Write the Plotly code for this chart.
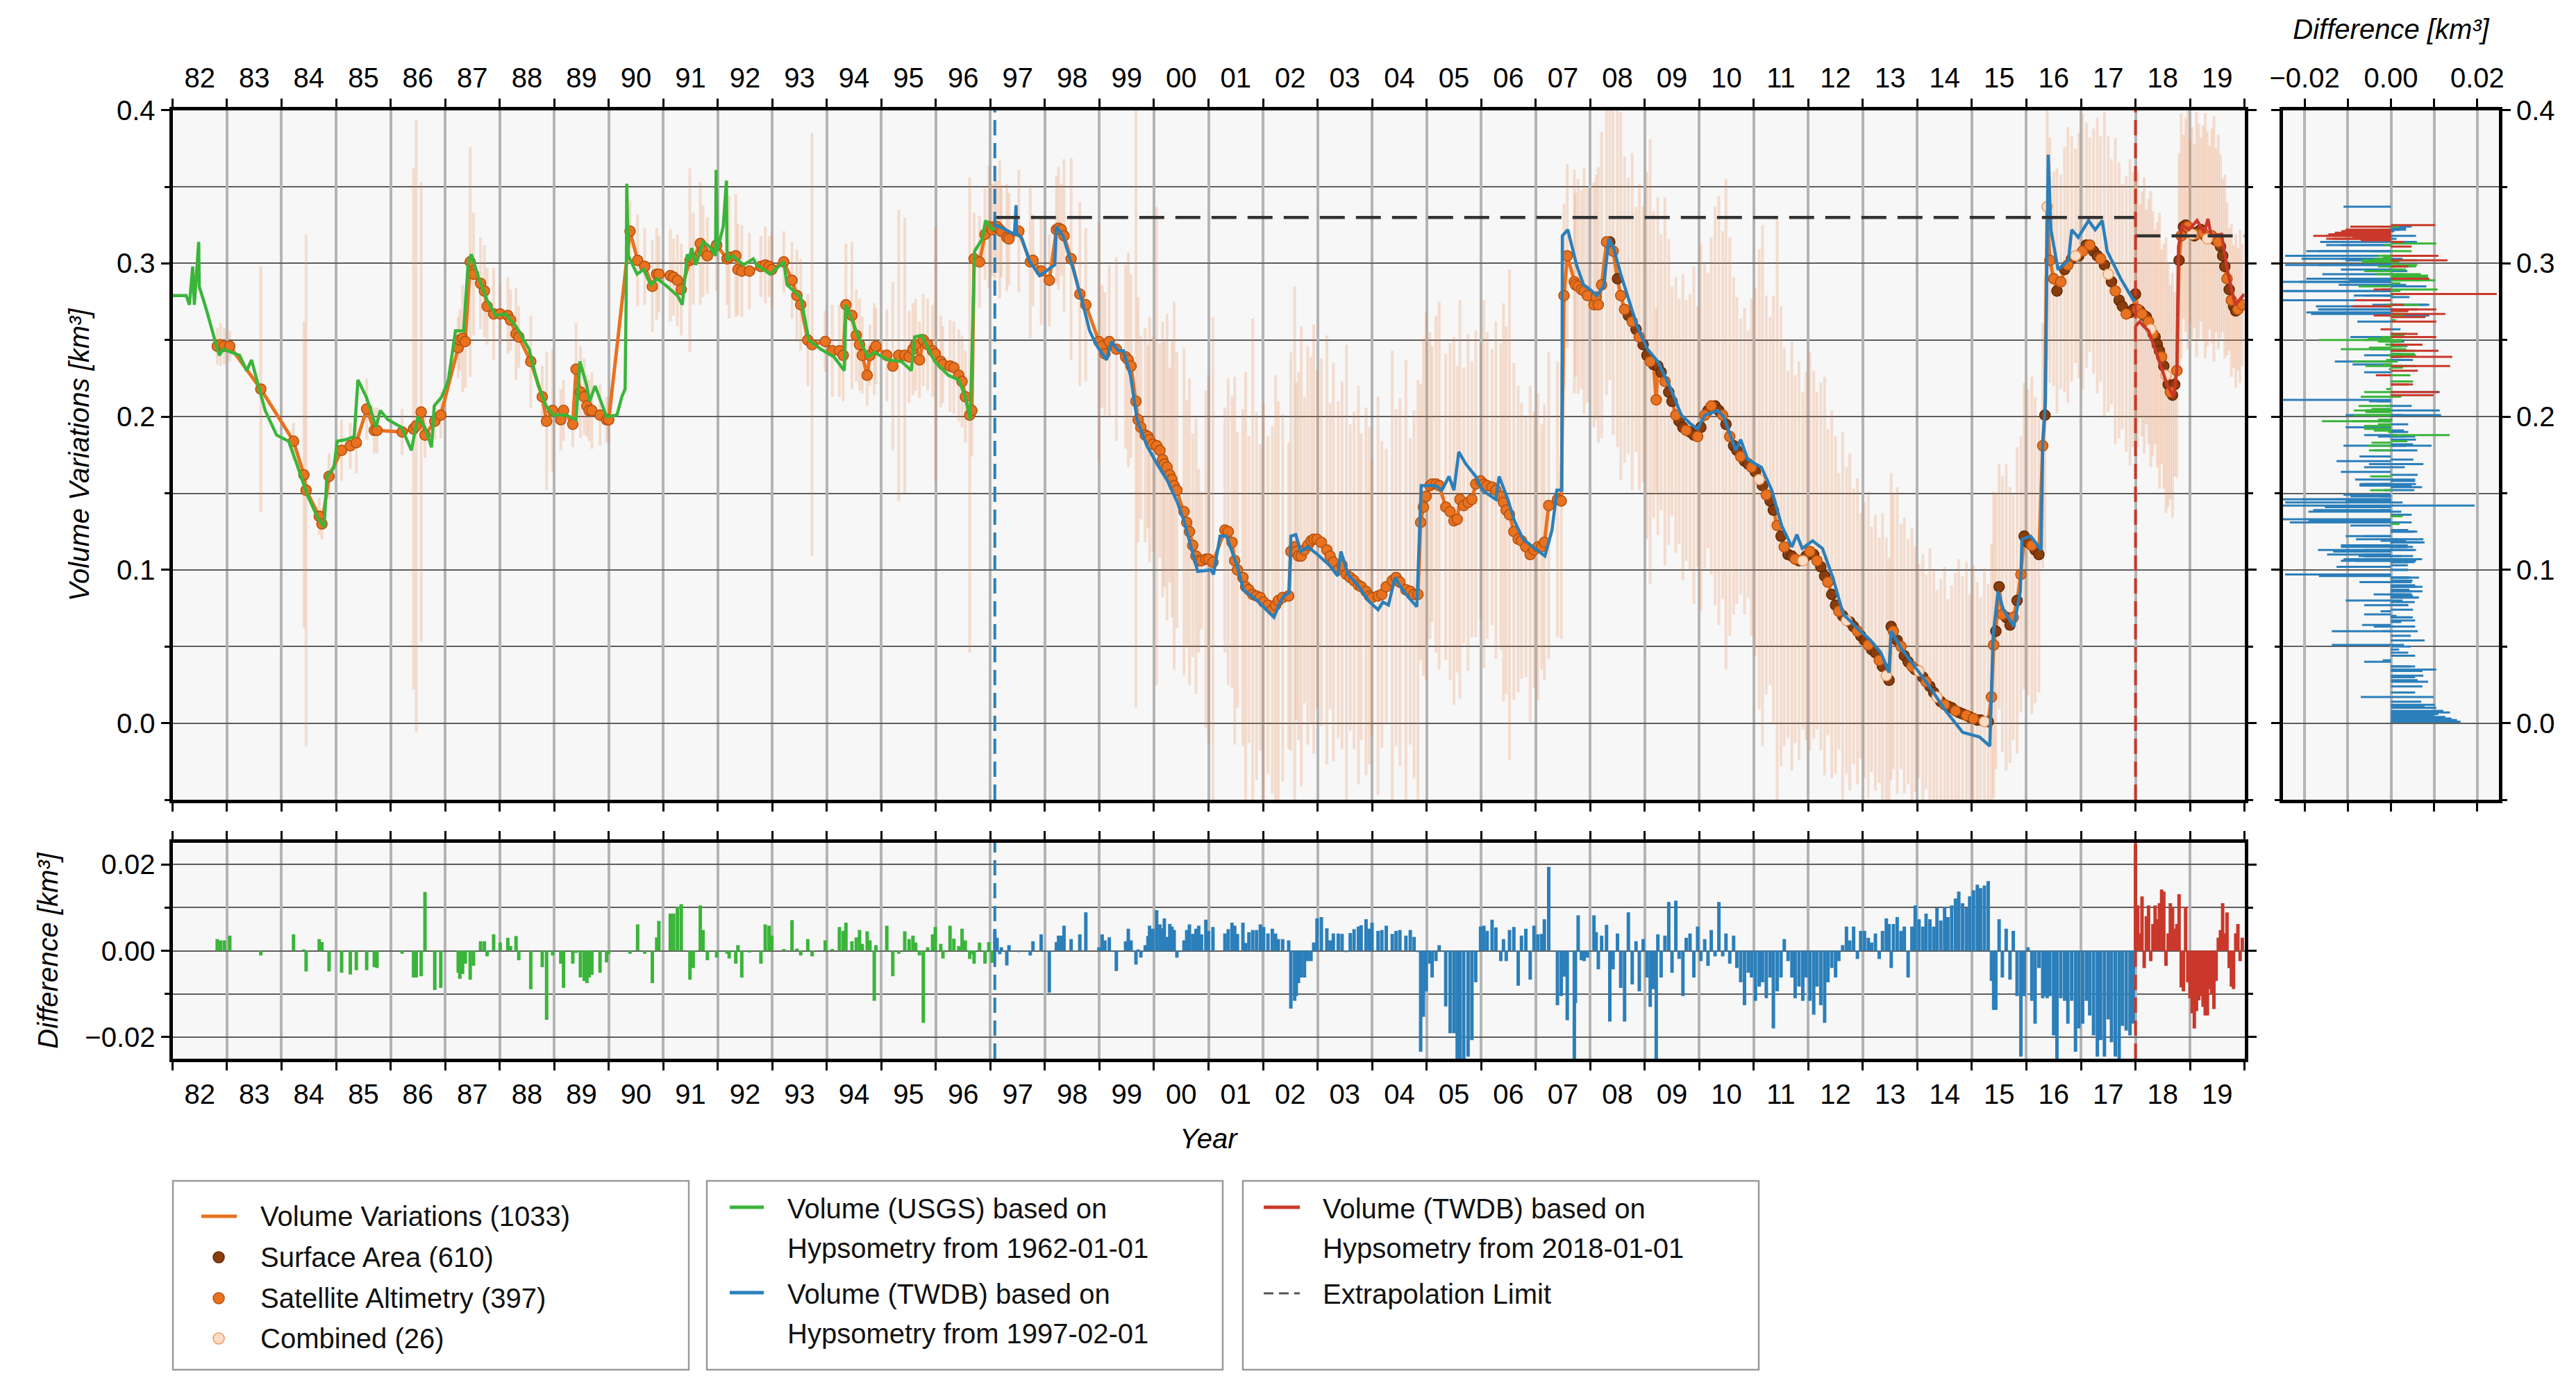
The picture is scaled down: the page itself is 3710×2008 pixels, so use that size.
import plotly.graph_objects as go
from datetime import datetime

W, H = 3710, 2008

# ---------------- DATA ----------------
# Period 1: 1982-1997 (USGS hypsometry), volume variations
p1_years = [1982.82, 1982.88, 1982.95, 1983.05, 1983.62, 1984.22, 1984.41, 1984.45, 1984.69, 1984.74,
            1984.87, 1985.10, 1985.26, 1985.37, 1985.56, 1985.70, 1985.75, 1986.21, 1986.42, 1986.47,
            1986.56, 1986.63, 1986.81, 1986.92, 1987.24, 1987.27, 1987.32, 1987.37, 1987.46, 1987.52,
            1987.65, 1987.72, 1987.77, 1987.89, 1988.01, 1988.15, 1988.20, 1988.30, 1988.35, 1988.57,
            1988.78, 1988.86, 1988.97, 1989.12, 1989.17, 1989.34, 1989.40, 1989.48, 1989.55, 1989.60,
            1989.64, 1989.69, 1989.84, 1989.96, 1990.00, 1990.39, 1990.53, 1990.66, 1990.80, 1990.88,
            1990.92, 1991.13, 1991.19, 1991.26, 1991.33, 1991.49, 1991.55, 1991.68, 1991.73, 1991.81,
            1991.98, 1992.17, 1992.21, 1992.33, 1992.37, 1992.44, 1992.58, 1992.79, 1992.87, 1992.94,
            1992.99, 1993.21, 1993.36, 1993.45, 1993.52, 1993.65, 1993.73, 1993.97, 1994.10, 1994.23,
            1994.30, 1994.35, 1994.46, 1994.54, 1994.60, 1994.65, 1994.74, 1994.79, 1994.87, 1994.90,
            1995.10, 1995.21, 1995.32, 1995.43, 1995.51, 1995.58, 1995.63, 1995.70, 1995.77, 1995.85,
            1995.94, 1995.99, 1996.09, 1996.13, 1996.26, 1996.33, 1996.42, 1996.48, 1996.54, 1996.62,
            1996.66, 1996.70, 1996.80, 1996.90, 1996.97, 1997.03]
p1_volume = [0.246, 0.247, 0.246, 0.246, 0.218, 0.184, 0.162, 0.152, 0.135, 0.130,
             0.161, 0.178, 0.181, 0.183, 0.205, 0.191, 0.191, 0.190, 0.192, 0.194,
             0.203, 0.188, 0.197, 0.201, 0.245, 0.250, 0.251, 0.249, 0.301, 0.293,
             0.287, 0.282, 0.272, 0.267, 0.267, 0.266, 0.263, 0.254, 0.252, 0.236,
             0.213, 0.197, 0.204, 0.198, 0.204, 0.195, 0.231, 0.216, 0.213, 0.207,
             0.204, 0.204, 0.201, 0.198, 0.198, 0.321, 0.302, 0.298, 0.285, 0.293,
             0.293, 0.292, 0.291, 0.289, 0.283, 0.302, 0.303, 0.313, 0.308, 0.305,
             0.312, 0.303, 0.304, 0.305, 0.296, 0.295, 0.295, 0.298, 0.299, 0.298,
             0.296, 0.301, 0.289, 0.279, 0.273, 0.250, 0.247, 0.249, 0.243, 0.243,
             0.240, 0.273, 0.266, 0.253, 0.247, 0.240, 0.227, 0.240, 0.244, 0.246,
             0.240, 0.233, 0.240, 0.240, 0.239, 0.244, 0.247, 0.237, 0.250, 0.247,
             0.243, 0.241, 0.236, 0.234, 0.233, 0.232, 0.227, 0.223, 0.213, 0.201,
             0.204, 0.303, 0.301, 0.319, 0.324, 0.322]
p1_error = [0.012, 0.014, 0.012, 0.010, 0.080, 0.012, 0.100, 0.167, 0.012, 0.010,
            0.015, 0.020, 0.015, 0.020, 0.020, 0.015, 0.015, 0.015, 0.170, 0.200,
            0.150, 0.015, 0.012, 0.015, 0.020, 0.020, 0.035, 0.030, 0.075, 0.040,
            0.030, 0.030, 0.025, 0.030, 0.020, 0.025, 0.020, 0.030, 0.020, 0.030,
            0.020, 0.045, 0.040, 0.020, 0.020, 0.015, 0.030, 0.030, 0.025, 0.020,
            0.020, 0.025, 0.020, 0.015, 0.015, 0.020, 0.030, 0.025, 0.030, 0.030,
            0.025, 0.030, 0.025, 0.030, 0.030, 0.060, 0.030, 0.040, 0.030, 0.025,
            0.030, 0.030, 0.040, 0.040, 0.030, 0.030, 0.025, 0.020, 0.025, 0.020,
            0.025, 0.020, 0.025, 0.030, 0.030, 0.030, 0.138, 0.020, 0.030, 0.030,
            0.030, 0.040, 0.048, 0.030, 0.030, 0.025, 0.020, 0.020, 0.030, 0.025,
            0.030, 0.055, 0.095, 0.090, 0.030, 0.030, 0.030, 0.025, 0.030, 0.030,
            0.030, 0.083, 0.030, 0.025, 0.030, 0.030, 0.030, 0.030, 0.030, 0.155,
            0.030, 0.030, 0.030, 0.030, 0.040, 0.030]
p1_diff = [0.0027, 0.0024, 0.0024, 0.0035, -0.0011, 0.0038, 0.0003, -0.0048, 0.0027, 0.0020,
           -0.0048, -0.0051, -0.0055, -0.0045, -0.0045, -0.0038, -0.0040, -0.0007, -0.0062, -0.0062,
           -0.0059, 0.0136, -0.0091, -0.0086, -0.0051, -0.0065, -0.0054, -0.0030, -0.0067, -0.0035,
           0.0022, 0.0022, -0.0013, 0.0038, 0.0019, 0.0030, 0.0011, 0.0034, -0.0022, -0.0089,
           -0.0038, -0.0160, -0.0011, -0.0030, -0.0086, -0.0030, -0.0005, -0.0062, -0.0070, -0.0075,
           -0.0062, -0.0056, -0.0051, -0.0027, -0.0008, -0.0007, 0.0061, -0.0007, -0.0075, 0.0031,
           0.0069, 0.0086, 0.0086, 0.0102, 0.0108, -0.0067, -0.0040, 0.0105, 0.0048, -0.0022,
           -0.0016, -0.0007, -0.0018, -0.0030, 0.0013, -0.0062, -0.0004, -0.0030, 0.0061, 0.0058,
           0.0035, 0.0004, 0.0071, 0.0005, -0.0011, 0.0027, -0.0013, 0.0024, 0.0004, 0.0055,
           0.0046, 0.0065, 0.0022, 0.0031, 0.0048, 0.0016, 0.0045, 0.0024, -0.0116, 0.0013,
           0.0058, -0.0059, -0.0007, 0.0045, 0.0027, 0.0035, 0.0019, -0.0011, -0.0167, 0.0008,
           0.0038, 0.0055, 0.0016, -0.0018, 0.0058, 0.0028, 0.0011, 0.0051, 0.0024, -0.0019,
           -0.0008, -0.0030, 0.0019, -0.0030, 0.0020, -0.0028]
p1_source = ("AAAAAAAAAA" "AAAAAAAAAA" "AAAAAAAAAA" "AAAAAAAAAA" "AAAAAAAAAA" "AAAAAAAAAA"
             "AAAAAAAAAA" "AAAAAAAAAA" "AAAAAAAAAA" "AAAAAAAAAA" "AAAAAAAAAA" "AAAAAAAAAA" "AAAAAA")

# Period 2a: 1997-2008 (TWDB 1997 hypsometry)
p2a_years = [1997.08, 1997.12, 1997.17, 1997.20, 1997.30, 1997.34, 1997.52, 1997.73, 1997.78, 1997.93,
             1998.08, 1998.21, 1998.25, 1998.30, 1998.35, 1998.48, 1998.64, 1998.75, 1998.99, 1999.05,
             1999.10, 1999.18, 1999.31, 1999.48, 1999.53, 1999.58, 1999.67, 1999.71, 1999.76, 1999.84,
             1999.89, 1999.92, 1999.98, 2000.05, 2000.11, 2000.16, 2000.19, 2000.24, 2000.29, 2000.33,
             2000.37, 2000.42, 2000.55, 2000.60, 2000.65, 2000.71, 2000.77, 2000.82, 2000.87, 2000.95,
             2001.00, 2001.08, 2001.30, 2001.36, 2001.43, 2001.48, 2001.53, 2001.63, 2001.68, 2001.74,
             2001.81, 2001.88, 2001.95, 2002.01, 2002.09, 2002.17, 2002.23, 2002.28, 2002.36, 2002.47,
             2002.51, 2002.58, 2002.61, 2002.65, 2002.70, 2002.76, 2002.82, 2002.88, 2002.93, 2002.99,
             2003.07, 2003.17, 2003.23, 2003.29, 2003.38, 2003.45, 2003.53, 2003.60, 2003.67, 2003.75,
             2003.80, 2003.89, 2003.95, 2004.00, 2004.11, 2004.18, 2004.26, 2004.37, 2004.44, 2004.51,
             2004.62, 2004.70, 2004.77, 2004.84, 2004.89, 2004.94, 2004.99, 2005.06, 2005.10, 2005.17,
             2005.23, 2005.35, 2005.43, 2005.50, 2005.56, 2005.61, 2005.68, 2005.76, 2005.83, 2005.90,
             2005.99, 2006.05, 2006.11, 2006.20, 2006.27, 2006.36, 2006.41, 2006.46, 2006.52, 2006.60,
             2006.68, 2006.74, 2006.82, 2006.90, 2006.97, 2007.04, 2007.11, 2007.16, 2007.24, 2007.40,
             2007.47, 2007.52, 2007.58, 2007.71, 2007.73, 2007.78, 2007.84, 2007.89, 2007.95, 2008.07,
             2008.11, 2008.15]
p2a_volume = [0.324, 0.324, 0.322, 0.321, 0.317, 0.316, 0.321, 0.301, 0.302, 0.295,
              0.289, 0.322, 0.323, 0.322, 0.318, 0.303, 0.280, 0.273, 0.249, 0.246,
              0.241, 0.249, 0.244, 0.239, 0.237, 0.233, 0.210, 0.198, 0.193, 0.188,
              0.187, 0.185, 0.182, 0.181, 0.178, 0.172, 0.169, 0.167, 0.162, 0.159,
              0.155, 0.152, 0.138, 0.131, 0.125, 0.116, 0.109, 0.106, 0.106, 0.107,
              0.107, 0.105, 0.126, 0.125, 0.118, 0.106, 0.100, 0.095, 0.089, 0.087,
              0.084, 0.083, 0.082, 0.079, 0.077, 0.074, 0.077, 0.080, 0.082, 0.083,
              0.112, 0.115, 0.112, 0.109, 0.109, 0.113, 0.116, 0.119, 0.120, 0.120,
              0.118, 0.113, 0.109, 0.105, 0.100, 0.103, 0.097, 0.095, 0.093, 0.090,
              0.089, 0.086, 0.083, 0.082, 0.083, 0.084, 0.089, 0.093, 0.095, 0.092,
              0.087, 0.086, 0.084, 0.084, 0.131, 0.141, 0.148, 0.155, 0.156, 0.156,
              0.155, 0.141, 0.138, 0.132, 0.133, 0.146, 0.142, 0.144, 0.146, 0.156,
              0.158, 0.156, 0.155, 0.154, 0.152, 0.148, 0.144, 0.139, 0.136, 0.125,
              0.120, 0.119, 0.115, 0.110, 0.113, 0.115, 0.115, 0.118, 0.142, 0.146,
              0.145, 0.279, 0.305, 0.288, 0.286, 0.285, 0.283, 0.282, 0.279, 0.273,
              0.278, 0.273]
p2a_error = [0.040, 0.030, 0.045, 0.030, 0.035, 0.030, 0.040, 0.050, 0.030, 0.035,
             0.030, 0.035, 0.040, 0.030, 0.050, 0.066, 0.060, 0.050, 0.078, 0.040,
             0.040, 0.050, 0.060, 0.060, 0.070, 0.060, 0.200, 0.080, 0.060, 0.070,
             0.060, 0.080, 0.070, 0.156, 0.070, 0.090, 0.080, 0.100, 0.070, 0.090,
             0.120, 0.090, 0.107, 0.080, 0.100, 0.073, 0.090, 0.060, 0.045, 0.110,
             0.120, 0.160, 0.080, 0.100, 0.095, 0.120, 0.090, 0.110, 0.140, 0.100,
             0.180, 0.120, 0.100, 0.130, 0.110, 0.120, 0.150, 0.130, 0.120, 0.100,
             0.130, 0.170, 0.110, 0.120, 0.150, 0.100, 0.130, 0.120, 0.140, 0.110,
             0.120, 0.140, 0.100, 0.130, 0.110, 0.120, 0.150, 0.100, 0.110, 0.130,
             0.100, 0.120, 0.110, 0.090, 0.130, 0.100, 0.090, 0.150, 0.110, 0.120,
             0.150, 0.100, 0.120, 0.140, 0.090, 0.110, 0.120, 0.100, 0.090, 0.110,
             0.120, 0.100, 0.110, 0.120, 0.100, 0.130, 0.090, 0.110, 0.090, 0.100,
             0.090, 0.120, 0.100, 0.090, 0.110, 0.100, 0.130, 0.120, 0.160, 0.110,
             0.100, 0.090, 0.085, 0.110, 0.090, 0.100, 0.080, 0.090, 0.100, 0.090,
             0.090, 0.060, 0.060, 0.073, 0.060, 0.070, 0.065, 0.080, 0.070, 0.080,
             0.080, 0.090]
p2a_diff = [0.0048, 0.0030, -0.0008, 0.0008, -0.0034, 0.0013, -0.0003, -0.0011, 0.0022, 0.0038,
            -0.0097, 0.0020, 0.0035, 0.0035, 0.0058, 0.0027, 0.0038, 0.0089, 0.0008, 0.0038,
            0.0024, 0.0031, -0.0047, 0.0022, 0.0051, 0.0024, -0.0032, 0.0003, -0.0016, 0.0013,
            0.0034, 0.0058, 0.0051, 0.0094, 0.0061, 0.0052, 0.0075, 0.0032, 0.0062, 0.0056,
            0.0048, -0.0016, 0.0024, 0.0048, 0.0061, 0.0039, 0.0051, 0.0058, 0.0038, 0.0072,
            0.0046, 0.0055, 0.0040, 0.0050, 0.0065, 0.0058, 0.0039, 0.0065, 0.0018, 0.0043,
            0.0048, 0.0048, 0.0061, 0.0055, 0.0040, 0.0051, 0.0040, 0.0027, 0.0027, 0.0024,
            -0.0134, -0.0116, -0.0105, -0.0075, -0.0062, -0.0062, -0.0024, -0.0024, 0.0019, 0.0075,
            0.0078, 0.0052, 0.0024, 0.0040, 0.0040, 0.0039, -0.0003, 0.0041, 0.0050, 0.0056,
            0.0059, 0.0073, 0.0051, 0.0065, 0.0046, 0.0048, 0.0058, 0.0039, 0.0046, 0.0048,
            0.0035, 0.0048, 0.0032, -0.0003, -0.0234, -0.0153, -0.0094, -0.0030, -0.0062, -0.0024,
            0.0013, -0.0129, -0.0191, -0.0191, -0.0250, -0.0250, -0.0250, -0.0245, -0.0207, -0.0073,
            0.0056, 0.0058, 0.0046, 0.0072, 0.0054, -0.0024, 0.0027, -0.0024, 0.0048, 0.0055,
            -0.0081, 0.0035, 0.0051, -0.0067, 0.0058, 0.0038, 0.0039, 0.0073, 0.0194, -0.0126,
            -0.0105, -0.0060, -0.0161, -0.0250, -0.0121, 0.0082, -0.0022, -0.0024, -0.0016, 0.0082,
            0.0043, -0.0043]
p2a_source = ("AAAAAAAAAA" "AAAAAAAAAA" "AAAAAAAAAA" "AAAAAAAAAA" "AAAAAAAAAA" "AAAAAAAAAA"
              "AAAAAAAAAA" "AAAAAAAAAA" "AAAAAAAAAA" "AAAAAAAAAA" "AAAAAAAAAA" "AAAAAAAAAA"
              "AAAAAAAAAA" "AAAAAAAAAA" "AAAAAAAAAA" "AA")

# Period 2b: 2008-2018 (TWDB 1997 hypsometry)
p2b_years = [2008.21, 2008.30, 2008.36, 2008.42, 2008.50, 2008.56, 2008.63, 2008.70, 2008.77, 2008.84,
             2008.90, 2008.97, 2009.04, 2009.10, 2009.16, 2009.21, 2009.24, 2009.30, 2009.37, 2009.44,
             2009.50, 2009.57, 2009.63, 2009.70, 2009.76, 2009.83, 2009.90, 2009.97, 2010.03, 2010.10,
             2010.16, 2010.22, 2010.29, 2010.36, 2010.43, 2010.49, 2010.56, 2010.63, 2010.69, 2010.76,
             2010.83, 2010.90, 2010.96, 2011.03, 2011.10, 2011.16, 2011.23, 2011.30, 2011.36, 2011.43,
             2011.50, 2011.56, 2011.63, 2011.70, 2011.76, 2011.83, 2011.90, 2011.96, 2012.03, 2012.10,
             2012.16, 2012.23, 2012.30, 2012.36, 2012.43, 2012.50, 2012.56, 2012.63, 2012.70, 2012.76,
             2012.83, 2012.90, 2012.96, 2013.03, 2013.10, 2013.16, 2013.23, 2013.30, 2013.36, 2013.43,
             2013.48, 2013.52, 2013.56, 2013.63, 2013.70, 2013.76, 2013.83, 2013.90, 2013.96, 2014.03,
             2014.10, 2014.16, 2014.23, 2014.30, 2014.36, 2014.43, 2014.50, 2014.56, 2014.63, 2014.70,
             2014.76, 2014.83, 2014.90, 2014.96, 2015.03, 2015.10, 2015.16, 2015.23, 2015.30, 2015.36,
             2015.40, 2015.44, 2015.50, 2015.56, 2015.63, 2015.70, 2015.76, 2015.83, 2015.90, 2015.96,
             2016.03, 2016.10, 2016.16, 2016.23, 2016.30, 2016.34, 2016.38, 2016.43, 2016.50, 2016.56,
             2016.63, 2016.70, 2016.76, 2016.83, 2016.90, 2016.96, 2017.03, 2017.10, 2017.16, 2017.23,
             2017.30, 2017.36, 2017.43, 2017.50, 2017.56, 2017.63, 2017.70, 2017.76, 2017.83, 2017.90,
             2017.96]
p2b_volume = [0.286, 0.314, 0.314, 0.308, 0.290, 0.279, 0.270, 0.266, 0.262, 0.257,
              0.252, 0.247, 0.240, 0.236, 0.234, 0.211, 0.233, 0.229, 0.223, 0.216,
              0.210, 0.201, 0.197, 0.193, 0.191, 0.190, 0.188, 0.187, 0.193, 0.201,
              0.204, 0.207, 0.207, 0.204, 0.201, 0.195, 0.187, 0.181, 0.178, 0.174,
              0.171, 0.169, 0.167, 0.164, 0.159, 0.155, 0.149, 0.145, 0.139, 0.129,
              0.122, 0.115, 0.110, 0.109, 0.107, 0.106, 0.106, 0.109, 0.112, 0.110,
              0.106, 0.102, 0.096, 0.092, 0.084, 0.077, 0.073, 0.070, 0.067, 0.066,
              0.063, 0.060, 0.057, 0.054, 0.051, 0.048, 0.046, 0.041, 0.037, 0.031,
              0.028, 0.063, 0.060, 0.054, 0.050, 0.044, 0.040, 0.037, 0.035, 0.034,
              0.030, 0.027, 0.024, 0.020, 0.017, 0.014, 0.012, 0.011, 0.010, 0.008,
              0.007, 0.006, 0.005, 0.004, 0.003, 0.002, 0.002, 0.001, 0.001, 0.017,
              0.051, 0.060, 0.089, 0.071, 0.069, 0.064, 0.069, 0.080, 0.097, 0.122,
              0.118, 0.116, 0.113, 0.110, 0.181, 0.201, 0.337, 0.302, 0.290, 0.282,
              0.288, 0.296, 0.299, 0.303, 0.305, 0.305, 0.308, 0.312, 0.312, 0.308,
              0.305, 0.303, 0.299, 0.293, 0.288, 0.282, 0.276, 0.272, 0.267, 0.268,
              0.270]
p2b_error = [0.100, 0.100, 0.090, 0.120, 0.110, 0.120, 0.100, 0.090, 0.110, 0.080,
             0.100, 0.090, 0.120, 0.145, 0.100, 0.060, 0.110, 0.090, 0.120, 0.100,
             0.075, 0.090, 0.080, 0.100, 0.085, 0.090, 0.110, 0.085, 0.120, 0.100,
             0.090, 0.110, 0.130, 0.140, 0.120, 0.160, 0.130, 0.110, 0.100, 0.090,
             0.100, 0.087, 0.110, 0.120, 0.150, 0.170, 0.130, 0.120, 0.140, 0.200,
             0.150, 0.130, 0.120, 0.140, 0.120, 0.130, 0.110, 0.120, 0.130, 0.120,
             0.110, 0.120, 0.130, 0.100, 0.120, 0.110, 0.090, 0.120, 0.100, 0.110,
             0.090, 0.100, 0.080, 0.090, 0.100, 0.080, 0.090, 0.080, 0.100, 0.090,
             0.080, 0.100, 0.090, 0.100, 0.080, 0.090, 0.080, 0.090, 0.080, 0.070,
             0.080, 0.070, 0.090, 0.080, 0.070, 0.080, 0.090, 0.070, 0.080, 0.090,
             0.100, 0.090, 0.100, 0.080, 0.100, 0.090, 0.080, 0.100, 0.090, 0.100,
             0.100, 0.090, 0.080, 0.090, 0.100, 0.090, 0.080, 0.100, 0.090, 0.100,
             0.100, 0.110, 0.100, 0.090, 0.080, 0.090, 0.100, 0.080, 0.070, 0.080,
             0.070, 0.080, 0.090, 0.080, 0.070, 0.080, 0.090, 0.080, 0.070, 0.080,
             0.090, 0.080, 0.100, 0.090, 0.080, 0.100, 0.090, 0.080, 0.090, 0.100,
             0.090]
p2b_diff = [0.0035, 0.0060, -0.0164, -0.0043, 0.0040, -0.0086, -0.0164, 0.0089, -0.0078, 0.0022,
            -0.0094, 0.0027, -0.0062, -0.0130, -0.0089, -0.0250, 0.0038, -0.0062, 0.0035, 0.0113,
            -0.0051, 0.0116, -0.0019, -0.0105, 0.0030, 0.0040, -0.0062, 0.0056, -0.0024, 0.0027,
            -0.0035, 0.0048, -0.0013, 0.0113, -0.0013, 0.0040, -0.0030, 0.0035, -0.0040, -0.0073,
            -0.0126, -0.0051, -0.0062, -0.0116, -0.0083, -0.0073, -0.0110, -0.0062, -0.0180, -0.0094,
            -0.0062, 0.0027, -0.0024, -0.0062, -0.0110, -0.0083, -0.0116, -0.0062, -0.0116, -0.0148,
            -0.0083, -0.0126, -0.0167, -0.0073, -0.0040, -0.0062, -0.0024, 0.0013, 0.0056, 0.0024,
            0.0056, -0.0019, 0.0046, 0.0046, 0.0030, 0.0019, 0.0040, -0.0019, 0.0046, 0.0075,
            0.0062, -0.0040, 0.0062, 0.0078, 0.0046, 0.0056, -0.0062, 0.0056, 0.0105, 0.0073,
            0.0056, 0.0086, 0.0073, 0.0056, 0.0099, 0.0070, 0.0102, 0.0078, 0.0105, 0.0121,
            0.0137, 0.0110, 0.0099, 0.0126, 0.0140, 0.0153, 0.0145, 0.0151, 0.0161, -0.0070,
            -0.0137, -0.0137, 0.0073, -0.0062, 0.0051, -0.0067, 0.0046, -0.0105, -0.0245, -0.0105,
            0.0008, -0.0116, -0.0169, -0.0040, -0.0110, -0.0105, -0.0110, -0.0105, -0.0196, -0.0250,
            -0.0110, -0.0116, -0.0169, -0.0116, -0.0234, -0.0180, -0.0169, -0.0116, -0.0150, -0.0196,
            -0.0245, -0.0207, -0.0245, -0.0159, -0.0212, -0.0245, -0.0250, -0.0174, -0.0185, -0.0196,
            -0.0169]
p2b_source = ("AASASAASAS" "ASSASASSAS" "SASSASSASA" "SASSASASSA" "SSASCSASSA" "SASSASCSAS"
              "ASSASSASCS" "SASSASSASC" "SSASASSASC" "SASSCSASSA" "SSASASSCSA" "ASSASSASAS"
              "SASSASCAAS" "ASASCSASAS" "SASCSASSAS" "S")

# Period 3: 2018-2020 (TWDB 2018 hypsometry)
p3_years = [2018.00, 2018.04, 2018.08, 2018.12, 2018.16, 2018.20, 2018.24, 2018.28, 2018.32, 2018.36,
            2018.40, 2018.44, 2018.48, 2018.52, 2018.56, 2018.60, 2018.64, 2018.68, 2018.72, 2018.76,
            2018.80, 2018.84, 2018.88, 2018.92, 2018.96, 2019.00, 2019.04, 2019.08, 2019.12, 2019.16,
            2019.20, 2019.24, 2019.28, 2019.32, 2019.36, 2019.40, 2019.44, 2019.48, 2019.52, 2019.56,
            2019.60, 2019.64, 2019.68, 2019.72, 2019.76, 2019.80, 2019.84, 2019.88, 2019.92, 2019.96]
p3_volume = [0.280, 0.270, 0.269, 0.267, 0.266, 0.265, 0.262, 0.257, 0.254, 0.252,
             0.247, 0.243, 0.239, 0.233, 0.227, 0.221, 0.216, 0.214, 0.221, 0.230,
             0.302, 0.318, 0.324, 0.325, 0.324, 0.321, 0.319, 0.318, 0.319, 0.321,
             0.322, 0.320, 0.318, 0.316, 0.317, 0.318, 0.316, 0.315, 0.314, 0.311,
             0.305, 0.298, 0.290, 0.283, 0.276, 0.272, 0.269, 0.270, 0.272, 0.273]
p3_error = [0.080, 0.090, 0.070, 0.080, 0.090, 0.070, 0.080, 0.090, 0.080, 0.070,
            0.080, 0.090, 0.070, 0.080, 0.090, 0.080, 0.070, 0.080, 0.060, 0.070,
            0.070, 0.080, 0.060, 0.070, 0.080, 0.060, 0.070, 0.060, 0.080, 0.070,
            0.060, 0.070, 0.080, 0.070, 0.060, 0.070, 0.080, 0.060, 0.070, 0.060,
            0.050, 0.060, 0.050, 0.040, 0.050, 0.040, 0.050, 0.040, 0.050, 0.040]
p3_diff = [0.0245, 0.0105, 0.0040, 0.0126, -0.0040, 0.0080, 0.0105, -0.0024, 0.0062, 0.0105,
           0.0073, 0.0110, 0.0142, 0.0137, -0.0035, 0.0040, 0.0110, 0.0099, 0.0051, 0.0062,
           0.0131, -0.0085, -0.0094, 0.0102, -0.0073, -0.0110, -0.0145, -0.0180, -0.0140, -0.0115,
           -0.0105, -0.0130, -0.0150, -0.0150, -0.0089, -0.0100, -0.0135, -0.0070, 0.0030, 0.0048,
           0.0110, 0.0040, 0.0089, -0.0040, -0.0083, -0.0089, 0.0040, 0.0062, -0.0024, 0.0030]
p3_source = "SASASSACAS" "SSASCSASSA" "SASSASCSAS" "SASCSASSAS" "SSASASSASA"

# Hypsometry-based volume series
usgs_years = [1982.00, 1982.25, 1982.31, 1982.37, 1982.40, 1982.48, 1982.49, 1982.62, 1982.80, 1982.86,
              1982.93, 1983.23, 1983.36, 1983.45, 1983.57, 1983.70, 1983.91, 1984.13, 1984.28, 1984.47,
              1984.65, 1984.78, 1984.83, 1984.96, 1985.02, 1985.18, 1985.33, 1985.40, 1985.55, 1985.64,
              1985.73, 1985.81, 1985.95, 1986.20, 1986.38, 1986.50, 1986.63, 1986.75, 1986.80, 1986.94,
              1987.06, 1987.19, 1987.34, 1987.42, 1987.48, 1987.62, 1987.77, 1987.93, 1988.11, 1988.30,
              1988.54, 1988.70, 1988.85, 1988.98, 1989.22, 1989.40, 1989.47, 1989.59, 1989.65, 1989.75,
              1989.96, 1990.15, 1990.24, 1990.30, 1990.32, 1990.33, 1990.36, 1990.52, 1990.64, 1990.77,
              1990.89, 1991.07, 1991.26, 1991.35, 1991.44, 1991.48, 1991.52, 1991.60, 1991.73, 1991.85,
              1991.96, 1991.97, 1991.99, 1992.04, 1992.10, 1992.16, 1992.17, 1992.28, 1992.47, 1992.65,
              1992.71, 1992.96, 1993.21, 1993.27, 1993.52, 1993.67, 1993.89, 1994.13, 1994.32, 1994.35,
              1994.57, 1994.75, 1994.87, 1995.12, 1995.37, 1995.55, 1995.61, 1995.74, 1995.98, 1996.23,
              1996.42, 1996.54, 1996.63, 1996.71, 1996.85, 1996.91, 1997.03, 1997.08]
usgs_volume = [0.279, 0.279, 0.273, 0.298, 0.273, 0.314, 0.285, 0.270, 0.247, 0.240,
               0.244, 0.240, 0.230, 0.237, 0.221, 0.204, 0.188, 0.184, 0.169, 0.149,
               0.135, 0.128, 0.161, 0.167, 0.184, 0.185, 0.187, 0.224, 0.213, 0.204,
               0.193, 0.204, 0.198, 0.193, 0.178, 0.200, 0.193, 0.180, 0.207, 0.213,
               0.224, 0.256, 0.256, 0.299, 0.306, 0.290, 0.276, 0.266, 0.267, 0.259,
               0.244, 0.221, 0.207, 0.201, 0.201, 0.198, 0.236, 0.221, 0.210, 0.220,
               0.200, 0.201, 0.213, 0.218, 0.279, 0.352, 0.305, 0.293, 0.296, 0.286,
               0.290, 0.285, 0.279, 0.273, 0.306, 0.302, 0.310, 0.299, 0.314, 0.311,
               0.305, 0.361, 0.308, 0.316, 0.324, 0.354, 0.302, 0.305, 0.299, 0.303,
               0.299, 0.293, 0.301, 0.286, 0.278, 0.250, 0.244, 0.239, 0.230, 0.273,
               0.253, 0.239, 0.242, 0.237, 0.236, 0.230, 0.252, 0.253, 0.236, 0.227,
               0.224, 0.213, 0.198, 0.308, 0.316, 0.328, 0.322, 0.323]

twdb97_years = [1997.08, 1997.22, 1997.44, 1997.47, 1997.48, 1997.58, 1997.71, 1997.90, 1998.18, 1998.21,
                1998.33, 1998.52, 1998.70, 1998.82, 1998.94, 1999.13, 1999.22, 1999.35, 1999.44, 1999.57,
                1999.69, 1999.87, 2000.06, 2000.25, 2000.43, 2000.55, 2000.68, 2000.80, 2001.05, 2001.09,
                2001.21, 2001.33, 2001.52, 2001.64, 2001.89, 2002.07, 2002.20, 2002.29, 2002.38, 2002.48,
                2002.51, 2002.60, 2002.69, 2002.82, 2003.00, 2003.22, 2003.37, 2003.43, 2003.56, 2003.74,
                2003.93, 2004.11, 2004.20, 2004.30, 2004.42, 2004.54, 2004.67, 2004.82, 2004.90, 2005.16,
                2005.28, 2005.41, 2005.50, 2005.59, 2005.72, 2005.90, 2006.02, 2006.27, 2006.33, 2006.49,
                2006.61, 2006.77, 2006.95, 2007.17, 2007.30, 2007.39, 2007.48, 2007.49, 2007.59, 2007.65,
                2007.75, 2007.88, 2008.00, 2008.12, 2008.25, 2008.34, 2008.43, 2008.56, 2008.74, 2008.86,
                2009.05, 2009.24, 2009.48, 2009.67, 2009.85, 2009.97, 2010.10, 2010.34, 2010.45, 2010.67,
                2010.76, 2010.89, 2011.14, 2011.33, 2011.51, 2011.70, 2011.79, 2011.89, 2012.08, 2012.26,
                2012.45, 2012.64, 2012.76, 2012.95, 2013.14, 2013.33, 2013.48, 2013.52, 2013.70, 2013.95,
                2014.20, 2014.52, 2014.83, 2015.14, 2015.33, 2015.39, 2015.48, 2015.58, 2015.77, 2015.89,
                2015.92, 2016.08, 2016.27, 2016.30, 2016.35, 2016.37, 2016.40, 2016.45, 2016.58, 2016.77,
                2016.83, 2016.95, 2017.14, 2017.26, 2017.39, 2017.48, 2017.73, 2017.96, 2018.00]
twdb97_volume = [0.325, 0.323, 0.319, 0.338, 0.320, 0.316, 0.302, 0.292, 0.299, 0.324,
                 0.318, 0.296, 0.273, 0.256, 0.247, 0.237, 0.249, 0.243, 0.243, 0.227,
                 0.198, 0.181, 0.169, 0.158, 0.144, 0.132, 0.115, 0.099, 0.100, 0.097,
                 0.122, 0.122, 0.103, 0.087, 0.080, 0.074, 0.069, 0.077, 0.083, 0.085,
                 0.122, 0.123, 0.112, 0.115, 0.110, 0.103, 0.096, 0.112, 0.097, 0.090,
                 0.080, 0.074, 0.079, 0.077, 0.095, 0.088, 0.082, 0.076, 0.155, 0.155,
                 0.152, 0.161, 0.152, 0.177, 0.169, 0.161, 0.152, 0.146, 0.161, 0.146,
                 0.132, 0.120, 0.115, 0.109, 0.126, 0.152, 0.152, 0.318, 0.322, 0.313,
                 0.299, 0.286, 0.283, 0.279, 0.285, 0.316, 0.310, 0.293, 0.273, 0.259,
                 0.244, 0.236, 0.218, 0.201, 0.195, 0.192, 0.201, 0.204, 0.200, 0.178,
                 0.185, 0.172, 0.167, 0.152, 0.129, 0.115, 0.123, 0.114, 0.119, 0.114,
                 0.095, 0.071, 0.067, 0.060, 0.054, 0.046, 0.033, 0.060, 0.049, 0.037,
                 0.025, 0.008, -0.006, -0.009, -0.015, 0.057, 0.086, 0.074, 0.063, 0.086,
                 0.120, 0.122, 0.113, 0.184, 0.210, 0.285, 0.371, 0.322, 0.296, 0.302,
                 0.322, 0.317, 0.328, 0.322, 0.328, 0.308, 0.290, 0.276, 0.276]

twdb18_years = [2018.00, 2018.08, 2018.15, 2018.24, 2018.36, 2018.52, 2018.58, 2018.70, 2018.76, 2018.79,
                2018.86, 2018.98, 2019.13, 2019.26, 2019.33, 2019.39, 2019.58, 2019.70, 2019.83, 2020.00]
twdb18_volume = [0.259, 0.262, 0.259, 0.256, 0.244, 0.228, 0.221, 0.213, 0.230, 0.311,
                 0.325, 0.322, 0.328, 0.320, 0.329, 0.318, 0.319, 0.293, 0.273, 0.280]

extrap_years = [1997.08, 2018.00, None, 2018.00, 2020.00]
extrap_volume = [0.330, 0.330, None, 0.318, 0.318]

hyps_switch_years = [1997.08, 2018.00]

year_range = [1982, 2020]
vol_range = [-0.05, 0.40]
diff_range = [-0.025, 0.025]

legend_labels = ["Volume Variations (1033)", "Surface Area (610)",
                 "Satellite Altimetry (397)", "Combined (26)"]

# ---------------- HELPERS ----------------
def to_date(y):
    if y is None:
        return None
    yr = int(y)
    a, b = datetime(yr, 1, 1), datetime(yr + 1, 1, 1)
    return a + (b - a) * (y - yr)


def dates(lst):
    return [to_date(v) for v in lst]


FONT = "Liberation Sans, Arial, Helvetica, sans-serif"
ORANGE = "#e8721f"
ORANGE_EDGE = "#b4500f"
BROWN = "#8a3d0c"
BROWN_EDGE = "#5e2806"
LIGHT = "#fddcc4"
LIGHT_EDGE = "#e8985f"
GREEN = "#3ab53a"
BLUE = "#2b7fba"
RED = "#c9382a"
ERR = "rgba(232,128,66,0.22)"
VGRID = "#b4b4b4"
HGRID = "#5e5e5e"

yrs = p1_years + p2a_years + p2b_years + p3_years
vol = p1_volume + p2a_volume + p2b_volume + p3_volume
err = p1_error + p2a_error + p2b_error + p3_error
src = p1_source + p2a_source + p2b_source + p3_source
n = min(len(yrs), len(vol), len(err), len(src))
yrs, vol, err, src = yrs[:n], vol[:n], err[:n], src[:n]
xd = dates(yrs)

fig = go.Figure()

# error bars
fig.add_trace(go.Scatter(x=xd, y=vol, mode="markers",
                         marker=dict(size=1, color="rgba(0,0,0,0)"),
                         error_y=dict(type="data", array=err, visible=True,
                                      color=ERR, thickness=4, width=0),
                         xaxis="x", yaxis="y", showlegend=False, hoverinfo="skip"))
# volume variations line
fig.add_trace(go.Scatter(x=xd, y=vol, mode="lines", line=dict(color=ORANGE, width=5),
                         xaxis="x", yaxis="y", showlegend=False))
# markers by source
for code, fill, edge in [("S", BROWN, BROWN_EDGE), ("A", ORANGE, ORANGE_EDGE), ("C", LIGHT, LIGHT_EDGE)]:
    mx = [xd[i] for i in range(n) if src[i] == code]
    my = [vol[i] for i in range(n) if src[i] == code]
    fig.add_trace(go.Scatter(x=mx, y=my, mode="markers",
                             marker=dict(size=15, color=fill, line=dict(color=edge, width=1.5)),
                             xaxis="x", yaxis="y", showlegend=False))
# hypsometry volume lines
for xs, ys, c in [(usgs_years, usgs_volume, GREEN), (twdb97_years, twdb97_volume, BLUE),
                  (twdb18_years, twdb18_volume, RED)]:
    fig.add_trace(go.Scatter(x=dates(xs), y=ys, mode="lines", line=dict(color=c, width=4.5),
                             xaxis="x", yaxis="y", showlegend=False))
# extrapolation limit
fig.add_trace(go.Scatter(x=dates(extrap_years), y=extrap_volume, mode="lines",
                         line=dict(color="#333333", width=4.5, dash="36px,16px"),
                         xaxis="x", yaxis="y", showlegend=False, connectgaps=False))

# difference bars (bottom) and difference vs volume (right)
periods = [(p1_years, p1_volume, p1_diff, GREEN),
           (p2a_years + p2b_years, p2a_volume + p2b_volume, p2a_diff + p2b_diff, BLUE),
           (p3_years, p3_volume, p3_diff, RED)]
for ys_, vs_, ds_, c in periods:
    bx, by = [], []
    for y_, d_ in zip(ys_, ds_):
        dt = to_date(y_)
        bx += [dt, dt, None]
        by += [0, d_, None]
    fig.add_trace(go.Scatter(x=bx, y=by, mode="lines", line=dict(color=c, width=5),
                             xaxis="x2", yaxis="y2", showlegend=False, connectgaps=False))
for idx in [1, 0, 2]:
    ys_, vs_, ds_, c = periods[idx]
    hx, hy = [], []
    for v_, d_ in zip(vs_, ds_):
        hx += [0, d_, None]
        hy += [v_, v_, None]
    fig.add_trace(go.Scatter(x=hx, y=hy, mode="lines", line=dict(color=c, width=3),
                             xaxis="x3", yaxis="y3", showlegend=False, connectgaps=False))

# ---------------- LAYOUT ----------------
def px_x(p):
    return p / W


def px_y(p):
    return 1 - p / H


main_x = [px_x(240.5), px_x(3224.5)]
main_y = [px_y(1144), px_y(150.7)]
bot_y = [px_y(1517), px_y(1206)]
side_x = [px_x(3280), px_x(3591)]

tickfont = dict(family=FONT, size=40, color="black")
titlefont = dict(family=FONT, size=40, color="black")
xr = [to_date(year_range[0]), to_date(year_range[1])]

common_date = dict(type="date", range=xr, tick0="1982-01-01", dtick="M12", tickformat="%y",
                   ticklabelmode="period", ticks="outside", ticklen=12, tickwidth=3,
                   tickcolor="black", showgrid=True, gridcolor=VGRID, gridwidth=4,
                   showline=True, linecolor="black", linewidth=5, mirror="ticks",
                   zeroline=False, tickfont=tickfont, automargin=False)


def yax(rng, dtick, minor_dtick, fmt, **kw):
    d = dict(range=rng, dtick=dtick, tick0=0, tickformat=fmt, ticks="outside", ticklen=12,
             tickwidth=3, tickcolor="black", showgrid=True, gridcolor=HGRID, gridwidth=2,
             minor=dict(dtick=minor_dtick, tick0=0, ticks="outside", ticklen=7, tickwidth=3,
                        tickcolor="black", showgrid=True, gridcolor=HGRID, gridwidth=2),
             showline=True, linecolor="black", linewidth=5, mirror="ticks", zeroline=False,
             tickfont=tickfont, automargin=False)
    d.update(kw)
    return d


layout = dict(
    width=W, height=H, margin=dict(l=0, r=0, t=0, b=0),
    paper_bgcolor="white", plot_bgcolor="#f7f7f7", template="none",
    font=dict(family=FONT, size=40, color="black"), showlegend=False,
    xaxis=dict(domain=main_x, anchor="y", side="top", **common_date),
    yaxis=dict(domain=main_y, anchor="x",
               title=dict(text="<i>Volume Variations [km³]</i>", font=titlefont, standoff=28),
               **yax(vol_range, 0.1, 0.05, ".1f")),
    xaxis2=dict(domain=main_x, anchor="y2", side="bottom",
                title=dict(text="<i>Year</i>", font=titlefont, standoff=30), **common_date),
    yaxis2=dict(domain=bot_y, anchor="x2",
                title=dict(text="<i>Difference [km³]</i>", font=titlefont, standoff=28),
                **yax(diff_range, 0.02, 0.01, ".2f")),
    xaxis3=dict(domain=side_x, anchor="y3", side="top", range=diff_range, dtick=0.02, tick0=0,
                tickformat=".2f", ticks="outside", ticklen=12, tickwidth=3, tickcolor="black",
                showgrid=True, gridcolor=VGRID, gridwidth=4,
                minor=dict(dtick=0.01, tick0=0, ticks="outside", ticklen=12, tickwidth=3,
                           tickcolor="black", showgrid=True, gridcolor=VGRID, gridwidth=4),
                showline=True, linecolor="black", linewidth=5, mirror="ticks", zeroline=False,
                tickfont=tickfont, automargin=False,
                title=dict(text="<i>Difference [km³]</i>", font=titlefont, standoff=22)),
    yaxis3=dict(domain=main_y, anchor="x3", side="right", **yax(vol_range, 0.1, 0.05, ".1f")),
)
fig.update_layout(**layout)

# vertical dashed lines marking hypsometry changes
shapes = []
for yv, c in zip(hyps_switch_years, [BLUE, RED]):
    for xr_, yr_ in [("x", "y domain"), ("x2", "y2 domain")]:
        shapes.append(dict(type="line", xref=xr_, yref=yr_, x0=to_date(yv), x1=to_date(yv),
                           y0=0, y1=1, line=dict(color=c, width=4, dash="22px,11px"),
                           layer="above"))

# ---------------- LEGEND (manual, three boxes) ----------------
annotations = []


def box(x0, x1, y0, y1):
    shapes.append(dict(type="rect", xref="paper", yref="paper", x0=px_x(x0), x1=px_x(x1),
                       y0=px_y(y1), y1=px_y(y0), line=dict(color="#9a9a9a", width=2.5),
                       fillcolor="white", layer="above"))


def seg(x0, x1, y, color, dash="solid", width=5):
    shapes.append(dict(type="line", xref="paper", yref="paper", x0=px_x(x0), x1=px_x(x1),
                       y0=px_y(y), y1=px_y(y), line=dict(color=color, width=width, dash=dash),
                       layer="above"))


def dot(cx, cy, r, fill, edge):
    shapes.append(dict(type="circle", xref="paper", yref="paper", x0=px_x(cx - r), x1=px_x(cx + r),
                       y0=px_y(cy + r), y1=px_y(cy - r), fillcolor=fill,
                       line=dict(color=edge, width=1.5), layer="above"))


def text(x, y, s):
    annotations.append(dict(xref="paper", yref="paper", x=px_x(x), y=px_y(y), text=s,
                            showarrow=False, xanchor="left", yanchor="middle",
                            font=dict(family=FONT, size=40, color="#111111")))


box(241, 984, 1693, 1965)
box(1010, 1753, 1693, 1965)
box(1782, 2525, 1693, 1965)

seg(282, 333, 1744, ORANGE)
dot(307, 1803, 8, BROWN, BROWN_EDGE)
dot(307, 1862, 8, ORANGE, ORANGE_EDGE)
dot(307, 1920, 8, LIGHT, LIGHT_EDGE)
for s, yy in zip(legend_labels, [1744, 1803, 1862, 1920]):
    text(365, yy, s)

seg(1043, 1092, 1731, GREEN)
text(1124, 1733, "Volume (USGS) based on")
text(1124, 1790, "Hypsometry from 1962-01-01")
seg(1043, 1092, 1854, BLUE)
text(1124, 1856, "Volume (TWDB) based on")
text(1124, 1913, "Hypsometry from 1997-02-01")

seg(1812, 1864, 1731, RED)
text(1895, 1733, "Volume (TWDB) based on")
text(1895, 1790, "Hypsometry from 2018-01-01")
seg(1812, 1864, 1855, "#555555", dash="14px,8px", width=3)
text(1895, 1856, "Extrapolation Limit")

fig.update_layout(shapes=shapes, annotations=annotations)
fig.write_html("out.html")
